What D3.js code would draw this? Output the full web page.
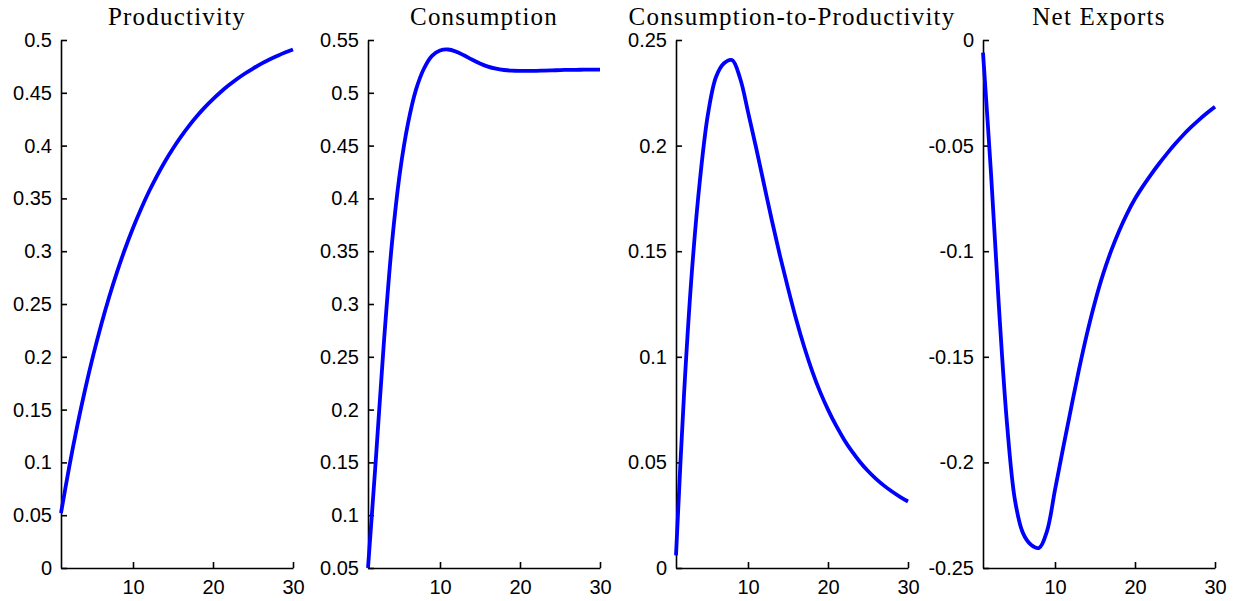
<!DOCTYPE html>
<html>
<head>
<meta charset="utf-8">
<script src="https://cdn.jsdelivr.net/npm/d3@7"></script>
<style>
  html, body { margin: 0; padding: 0; background: #ffffff; }
  .tick text { font-family: "Liberation Sans", Arial, sans-serif; font-size: 20px; fill: #000; }
  .ptitle { font-family: "Liberation Serif", "Times New Roman", serif; font-size: 25px; letter-spacing: 1.2px; fill: #000; }
</style>
</head>
<body>
<div id="chart"></div>
<script>
// periods 1..30
var periods = d3.range(1, 31);

var productivity = [0.0520, 0.0946, 0.1334, 0.1686, 0.2006, 0.2297, 0.2562, 0.2802, 0.3021, 0.3220,
                    0.3400, 0.3565, 0.3714, 0.3850, 0.3973, 0.4085, 0.4187, 0.4280, 0.4364, 0.4440,
                    0.4510, 0.4573, 0.4631, 0.4683, 0.4730, 0.4774, 0.4813, 0.4848, 0.4881, 0.4910];

var consumption = [0.050, 0.155, 0.265, 0.358, 0.425, 0.471, 0.503, 0.523, 0.535, 0.540,
                   0.541, 0.539, 0.5355, 0.5315, 0.5278, 0.5248, 0.5228, 0.5216, 0.5210, 0.5208,
                   0.5208, 0.5208, 0.521, 0.5212, 0.5215, 0.5217, 0.5218, 0.5219, 0.522, 0.522];

var consToProd = [0.006, 0.082, 0.141, 0.184, 0.215, 0.2325, 0.2390, 0.2405, 0.2320, 0.2160,
                  0.1992, 0.1817, 0.1643, 0.1478, 0.1325, 0.1180, 0.1050, 0.0935, 0.0835, 0.0750,
                  0.0675, 0.0609, 0.0552, 0.0502, 0.0459, 0.0422, 0.0390, 0.0362, 0.0337, 0.0315];

var netExports = [-0.006, -0.063, -0.127, -0.1816, -0.218, -0.2335, -0.2390, -0.2405, -0.2325, -0.2130,
                  -0.1935, -0.1745, -0.1560, -0.1390, -0.1240, -0.1110, -0.1000, -0.0905, -0.0823, -0.0752,
                  -0.0692, -0.0637, -0.0586, -0.0538, -0.0493, -0.0451, -0.0413, -0.0378, -0.0346, -0.0316];

var titles = ['Productivity', 'Consumption', 'Consumption-to-Productivity', 'Net Exports'];
var yDomains = [[0, 0.5], [0.05, 0.55], [0, 0.25], [-0.25, 0]];
var yTickStep = [0.05, 0.05, 0.05, 0.05];
var xTicks = [10, 20, 30];

var W = 1239, H = 601;
var TOP = 40, BOTTOM = 568;
var panelLeft = [61, 368, 676, 983];
var PANEL_W = 232;

var series = [productivity, consumption, consToProd, netExports];

var svg = d3.select('#chart').append('svg')
  .attr('width', W)
  .attr('height', H);

var fmt = function (v) {
  var r = Math.round(v * 1000) / 1000;
  return r === 0 ? '0' : String(r);
};

series.forEach(function (vals, i) {
  var x = d3.scaleLinear().domain([1, 30]).range([panelLeft[i], panelLeft[i] + PANEL_W]);
  var y = d3.scaleLinear().domain(yDomains[i]).range([BOTTOM, TOP]);
  var g = svg.append('g');

  var yt = d3.range(yDomains[i][0], yDomains[i][1] + 1e-9, yTickStep[i]);

  var yAxis = g.append('g')
    .attr('transform', 'translate(' + panelLeft[i] + ',0)')
    .call(d3.axisLeft(y).tickValues(yt).tickFormat(fmt).tickSizeInner(-6).tickSizeOuter(0).tickPadding(9));

  var xAxis = g.append('g')
    .attr('transform', 'translate(0,' + BOTTOM + ')')
    .call(d3.axisBottom(x).tickValues(xTicks).tickFormat(d3.format('d')).tickSizeInner(-6).tickSizeOuter(0).tickPadding(12));

  [yAxis, xAxis].forEach(function (a) {
    a.select('.domain').attr('stroke', '#000').attr('stroke-width', 1.6);
    a.selectAll('.tick line').attr('stroke', '#000').attr('stroke-width', 1.6);
  });

  var line = d3.line()
    .x(function (d, k) { return x(periods[k]); })
    .y(function (d) { return y(d); })
    .curve(d3.curveCatmullRom.alpha(0.5));

  g.append('path')
    .datum(vals)
    .attr('d', line)
    .attr('fill', 'none')
    .attr('stroke', '#0000ff')
    .attr('stroke-width', 3.8)
    .attr('stroke-linejoin', 'round');

  g.append('text')
    .attr('class', 'ptitle')
    .attr('x', panelLeft[i] + PANEL_W / 2)
    .attr('y', 25)
    .attr('text-anchor', 'middle')
    .text(titles[i]);
});
</script>
</body>
</html>
